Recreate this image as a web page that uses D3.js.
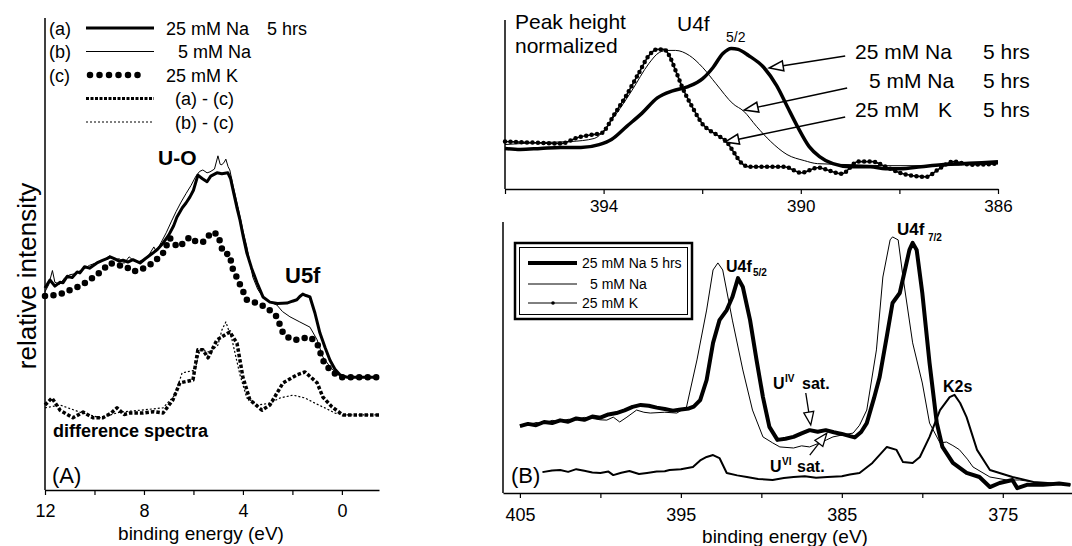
<!DOCTYPE html>
<html><head><meta charset="utf-8">
<script src="https://cdn.jsdelivr.net/npm/d3@7"></script>
<style>
body{margin:0;background:#fff}
svg{display:block}
text{font-family:"Liberation Sans",Arial,Helvetica,sans-serif;fill:#000}
</style>
</head><body>
<svg id="chart" width="1072" height="546"></svg>
<script>
// ---------------- DATA (binding energy eV, relative intensity a.u.) ----------------
// Panel A: valence band
const naThickA = [[12.0,42.8],[11.8,44.5],[11.6,43.2],[11.4,44.0],[11.27,43.9],[11.1,45.3],[10.9,45.0],[10.7,46.2],[10.59,46.0],[10.4,47.3],[10.2,47.0],[9.9,48.1],[9.7,48.6],[9.5,49.0],[9.37,49.4],[9.2,49.0],[9.0,48.5],[8.85,48.7],[8.65,48.3],[8.45,48.8],[8.16,48.1],[7.95,49.0],[7.64,50.2],[7.45,51.0],[7.23,52.3],[7.0,54.0],[6.8,56.0],[6.67,57.8],[6.45,59.8],[6.3,60.8],[6.14,62.1],[6.0,63.5],[5.82,66.7],[5.65,66.0],[5.45,65.3],[5.3,66.5],[5.05,67.2],[4.85,67.0],[4.61,67.2],[4.5,66.0],[4.40,63.6],[4.25,60.0],[4.12,57.2],[3.98,53.5],[3.84,50.2],[3.65,47.0],[3.43,43.9],[3.19,40.9],[2.91,39.8],[2.6,39.5],[2.22,39.6],[2.0,40.0],[1.82,40.3],[1.7,41.0],[1.58,41.5],[1.45,41.2],[1.29,40.9],[1.09,37.5],[0.89,33.3],[0.68,30.2],[0.48,27.5],[0.28,25.6],[0.08,24.4],[-0.2,23.9],[-0.8,23.9],[-1.5,23.9]];
const naThinA = [[12.0,42.0],[11.85,43.5],[11.7,46.5],[11.6,44.0],[11.4,43.6],[11.2,45.0],[11.0,45.6],[10.8,45.8],[10.6,46.4],[10.4,47.0],[10.2,47.6],[10.0,48.0],[9.8,48.4],[9.6,48.8],[9.4,49.6],[9.2,48.8],[9.0,49.0],[8.8,48.0],[8.6,49.4],[8.4,48.5],[8.2,48.4],[8.0,48.9],[7.8,49.8],[7.6,51.5],[7.5,50.5],[7.3,52.5],[7.1,54.5],[6.9,56.8],[6.7,59.0],[6.5,61.0],[6.3,62.8],[6.1,64.5],[5.9,66.5],[5.75,67.5],[5.62,67.8],[5.45,67.2],[5.33,67.4],[5.15,68.0],[5.01,70.8],[4.92,69.0],[4.85,68.9],[4.75,69.5],[4.69,70.1],[4.6,68.5],[4.53,67.8],[4.4,64.5],[4.2,60.0],[4.0,55.0],[3.84,51.5],[3.6,45.1],[3.4,42.5],[3.19,40.9],[2.9,39.8],[2.63,39.2],[2.4,37.8],[2.1,36.7],[1.7,35.6],[1.29,34.5],[1.0,31.8],[0.77,28.2],[0.48,26.1],[0.2,24.6],[0.0,24.0],[-0.5,23.9],[-1.5,23.9]];
const kDotsA = [[12.0,41.1],[11.6,41.3],[11.27,41.7],[10.9,42.6],[10.59,43.2],[10.2,44.5],[9.9,45.6],[9.6,47.0],[9.37,48.1],[9.05,47.6],[8.77,47.5],[8.45,46.3],[8.16,46.6],[7.9,47.3],[7.76,47.7],[7.5,48.8],[7.23,50.2],[6.95,53.4],[6.75,52.0],[6.55,51.5],[6.35,52.8],[6.14,53.6],[5.9,52.6],[5.62,52.5],[5.4,53.8],[5.21,54.7],[5.0,54.0],[4.81,50.4],[4.53,49.8],[4.44,47.2],[4.2,44.5],[3.84,40.3],[3.43,39.6],[3.03,38.6],[2.63,36.7],[2.38,33.3],[2.1,32.0],[1.82,31.8],[1.5,32.2],[1.29,32.4],[1.0,31.1],[0.77,27.5],[0.48,25.4],[0.08,23.9],[-0.5,23.9],[-1.5,23.9]];
const diffAC = [[12.0,18.0],[11.72,19.5],[11.39,16.9],[11.1,16.0],[10.87,15.3],[10.46,16.5],[10.06,15.3],[9.66,15.3],[9.35,16.2],[9.09,17.4],[8.8,16.0],[8.57,16.3],[8.04,16.3],[7.6,16.6],[7.23,16.3],[6.83,19.1],[6.55,22.7],[6.02,23.3],[5.82,29.7],[5.62,29.7],[5.41,28.0],[5.05,31.8],[4.53,33.5],[4.24,31.1],[4.0,23.9],[3.72,19.1],[3.23,16.9],[2.91,18.0],[2.38,22.7],[1.82,24.4],[1.49,25.0],[1.0,22.7],[0.77,19.7],[0.4,17.6],[-0.04,15.9],[-1.5,15.9]];
const diffBC = [[12.0,17.4],[11.39,18.0],[10.59,16.5],[9.78,15.3],[8.97,16.5],[8.16,16.9],[7.23,17.4],[6.75,20.1],[6.46,24.8],[5.94,25.4],[5.74,29.7],[5.33,29.2],[5.01,30.7],[4.85,33.9],[4.69,35.6],[4.44,31.8],[4.12,24.4],[3.84,19.5],[3.39,18.0],[2.91,18.4],[2.5,19.5],[1.98,20.1],[1.49,19.5],[1.09,18.4],[0.69,17.4],[0.28,16.3],[-0.12,15.9],[-1.5,15.9]];

// Panel C: U4f5/2, peak height normalized
const naThickC = [[396.0,24.0],[395.69,23.4],[395.28,24.0],[394.87,24.6],[394.46,24.6],[394.09,26.3],[393.84,29.3],[393.53,37.1],[393.22,44.9],[392.91,53.9],[392.60,58.1],[392.30,60.5],[391.99,65.3],[391.78,71.9],[391.58,80.2],[391.41,83.2],[391.27,82.6],[391.06,79.0],[390.75,71.9],[390.49,61.1],[390.28,49.1],[390.07,37.1],[389.83,25.1],[389.62,19.2],[389.35,15.0],[389.00,13.2],[388.59,13.2],[388.28,12.0],[387.98,12.0],[387.56,13.2],[387.15,14.4],[386.74,15.0],[386.33,15.6],[386.0,16.2]];
const naThinC = [[396.0,26.3],[395.28,27.5],[394.66,28.1],[394.19,29.9],[393.78,43.1],[393.43,58.1],[393.08,74.3],[392.87,80.8],[392.71,82.0],[392.54,82.0],[392.26,79.0],[391.99,71.9],[391.72,62.3],[391.37,50.3],[391.16,46.1],[390.90,37.1],[390.61,28.1],[390.28,20.4],[389.93,16.8],[389.66,15.0],[388.96,14.4],[388.28,13.8],[387.46,13.8],[386.64,14.4],[386.0,15.6]];
const kDotsC = [[396.0,28.1],[395.49,27.5],[394.87,26.9],[394.52,30.5],[394.19,32.3],[394.05,32.9],[393.78,44.3],[393.57,53.9],[393.28,68.9],[393.08,79.0],[392.91,82.6],[392.77,82.6],[392.67,79.0],[392.54,70.1],[392.40,59.9],[392.19,47.9],[391.99,38.3],[391.72,32.3],[391.51,28.1],[391.37,22.2],[391.23,16.2],[391.06,13.2],[390.75,13.2],[390.34,13.2],[389.99,9.6],[389.66,12.6],[389.17,9.0],[388.84,16.2],[388.55,16.2],[388.28,13.2],[387.93,9.0],[387.46,7.2],[387.19,12.0],[386.91,16.2],[386.53,14.4],[386.0,15.0]];

// Panel B: U4f region
const naThickB = [[405.0,24.7],[404.5,25.5],[404.0,25.0],[403.5,26.2],[403.0,25.8],[402.5,26.8],[402.0,26.3],[401.5,27.5],[401.0,27.0],[400.5,28.2],[400.0,27.8],[399.5,29.0],[399.0,29.5],[398.5,30.5],[398.0,31.8],[397.5,32.5],[397.0,32.2],[396.5,31.5],[396.0,31.0],[395.5,30.4],[395.0,30.8],[394.5,31.2],[394.2,31.9],[393.8,34.3],[393.4,41.7],[393.0,55.4],[392.6,63.8],[392.15,67.5],[391.8,72.3],[391.45,79.3],[391.15,76.0],[390.7,63.8],[390.3,49.1],[389.9,35.4],[389.5,24.4],[389.0,19.6],[388.5,20.0],[388.0,20.7],[387.5,22.0],[387.0,23.2],[386.5,22.6],[386.0,23.2],[385.5,22.4],[385.0,21.8],[384.5,21.0],[384.2,20.5],[383.8,22.5],[383.45,25.8],[383.0,35.0],[382.65,42.8],[382.2,58.0],[381.85,70.1],[381.4,73.8],[380.8,89.7],[380.6,92.3],[380.35,89.7],[380.0,73.8],[379.55,48.0],[379.1,25.8],[378.75,17.0],[378.1,11.1],[377.25,7.4],[376.45,5.9],[375.8,2.2],[375.2,3.7],[374.4,4.8],[374.1,1.8],[373.5,3.0],[372.5,3.0],[371.5,3.5],[370.8,3.0]];
const naThinB = [[405.0,25.1],[404.5,25.0],[404.0,26.0],[403.5,25.6],[403.0,26.8],[402.5,26.4],[402.0,27.2],[401.5,27.0],[401.0,27.9],[400.5,27.5],[400.0,27.0],[399.6,26.9],[399.2,28.0],[398.8,26.2],[398.35,28.0],[397.75,30.6],[397.3,29.8],[396.9,29.5],[396.0,29.8],[395.25,29.5],[394.65,31.7],[394.0,49.1],[393.4,67.5],[393.0,82.3],[392.7,84.9],[392.4,82.3],[391.8,63.8],[391.15,45.4],[390.55,30.6],[389.9,20.7],[389.3,18.5],[388.85,17.0],[388.0,16.6],[387.5,17.4],[387.0,17.0],[386.5,18.2],[385.95,19.6],[385.55,20.7],[384.9,21.5],[384.3,22.1],[383.9,25.0],[383.45,30.6],[382.85,52.8],[382.45,79.7],[382.0,93.4],[381.85,94.5],[381.5,93.4],[381.2,79.7],[380.6,55.4],[380.0,40.6],[379.55,25.8],[378.9,18.5],[378.5,18.8],[378.1,17.5],[377.7,16.0],[377.2,12.5],[376.85,9.6],[375.8,5.9],[374.75,4.8],[373.95,4.8],[372.7,3.7],[370.8,3.0]];
const kDotsB = [[403.6,7.7],[403.0,8.3],[402.5,8.5],[402.0,7.8],[401.5,8.8],[401.0,8.2],[400.5,7.6],[400.0,7.4],[399.5,7.9],[399.2,6.6],[398.7,7.5],[398.2,8.1],[397.6,7.0],[397.1,7.4],[396.5,7.9],[396.0,8.0],[395.7,8.5],[395.0,8.8],[394.25,9.6],[393.8,12.0],[393.4,13.3],[393.0,14.0],[392.6,12.9],[392.15,7.4],[391.5,6.5],[390.9,5.9],[390.2,5.2],[389.3,4.8],[388.6,5.5],[388.0,5.9],[387.3,6.2],[386.6,5.6],[385.9,5.9],[385.0,6.2],[384.5,6.8],[383.9,7.4],[383.1,11.1],[382.2,17.0],[381.6,15.9],[381.2,11.4],[380.6,11.1],[380.15,13.3],[379.55,20.7],[378.9,30.6],[378.3,35.4],[378.0,36.2],[377.65,33.2],[377.25,28.0],[376.6,15.9],[375.8,8.5],[375.2,7.4],[374.4,5.9],[373.1,4.1],[372.0,3.6],[370.8,3.0]];

// Tick values / labels
const ticksA = [12,10,8,6,4,2,0];
const labelsA = [12,8,4,0];
const ticksC = [396,394,392,390,388,386];
const labelsC = [394,390,386];
const ticksB = [405,400,395,390,385,380,375];
const labelsB = [405,395,385,375];

// Legend texts
const legendA = [["(a)","25 mM Na","5 hrs"],["(b)","5 mM Na",""],["(c)","25 mM K",""],["","(a) - (c)",""],["","(b) - (c)",""]];
const legendB = ["25 mM Na 5 hrs","5 mM Na","25 mM K"];
const labelsCurvesC = [["25 mM Na","","5 hrs"],["5 mM Na","","5 hrs"],["25 mM","K","5 hrs"]];

// Arrow annotations (data coords: [eV, intensity])
const arrowsC = [[[389.10,78.7],[390.64,71.6]],[[389.06,59.8],[391.15,46.7]],[[389.10,42.6],[391.54,27.8]]];
const arrowsB = [[[387.24,36.9],[386.93,25.1]],[[386.99,14.0],[385.93,22.1]]];

// ---------------- DRAW ----------------
const svg = d3.select("#chart");

function txt(g, x, y, s, size, weight, anchor){
  return g.append("text").attr("x",x).attr("y",y).attr("font-size",size)
    .attr("font-weight",weight||"normal").attr("text-anchor",anchor||"start").text(s);
}
function xAxis(g, scale, y, ticks, labels, fs, ly){
  const ax = d3.axisBottom(scale).tickValues(ticks).tickSize(5).tickSizeOuter(0)
    .tickFormat(d => labels.includes(d) ? String(d) : "");
  const a = g.append("g").attr("transform",`translate(0,${y})`).call(ax);
  a.attr("font-family",null).attr("font-size",null);
  a.select(".domain").attr("stroke","#000").attr("stroke-width",1.5);
  a.selectAll(".tick line").attr("stroke","#000").attr("stroke-width",1.2);
  a.selectAll(".tick text").attr("font-size",fs).attr("y",ly).attr("dy",0).attr("fill","#000");
}
function arrow(g, x1,y1,x2,y2,L,W,sw){
  const a = Math.atan2(y2-y1,x2-x1);
  const bx = x2-L*Math.cos(a), by = y2-L*Math.sin(a);
  g.append("line").attr("x1",x1).attr("y1",y1).attr("x2",bx).attr("y2",by)
    .attr("stroke","#000").attr("stroke-width",sw);
  const px = -Math.sin(a)*W, py = Math.cos(a)*W;
  g.append("polygon").attr("points",`${x2},${y2} ${bx+px},${by+py} ${bx-px},${by-py}`)
    .attr("fill","#fff").attr("stroke","#000").attr("stroke-width",sw).attr("stroke-linejoin","miter");
}
function curve(g, data, x, y, style){
  const line = d3.line().x(d=>x(d[0])).y(d=>y(d[1])).curve(style.curve||d3.curveLinear);
  const p = g.append("path").datum(data).attr("d",line).attr("fill","none")
    .attr("stroke","#000").attr("stroke-width",style.w).attr("stroke-linejoin","round");
  if(style.dash) p.attr("stroke-dasharray",style.dash);
  if(style.cap) p.attr("stroke-linecap",style.cap);
  return p;
}

// ===== Panel A =====
const gA = svg.append("g");
const xA = d3.scaleLinear().domain([12,-1.5]).range([45,379]);
const yA = d3.scaleLinear().domain([0,100]).range([490,18]);
gA.append("line").attr("x1",xA(12)).attr("x2",xA(12)).attr("y1",yA(100)).attr("y2",yA(0))
  .attr("stroke","#000").attr("stroke-width",1.5);
xAxis(gA, xA, yA(0), ticksA, labelsA, 18, 27);
txt(gA, 201, 540, "binding energy (eV)", 19, "normal", "middle");
gA.append("text").attr("transform","translate(36,276) rotate(-90)").attr("text-anchor","middle")
  .attr("font-size",26).text("relative intensity");

curve(gA, diffBC, xA, yA, {w:1.2, dash:"2 2"});
curve(gA, diffAC, xA, yA, {w:3.5, dash:"3.5 2"});
curve(gA, naThinA, xA, yA, {w:1});
curve(gA, naThickA, xA, yA, {w:3});
curve(gA, kDotsA, xA, yA, {w:6.5, dash:"0 8.5", cap:"round"});

// legend A
const rowY = i => 28 + 23.5*i;
legendA.forEach((r,i)=>{
  const yy = rowY(i);
  if(r[0]) txt(gA, 49, yy+6.5, r[0], 18);
  txt(gA, i===1?178:(i>=3?175:166), yy+6.5, r[1], 18);
  if(r[2]) txt(gA, 267, yy+6.5, r[2], 18);
});
const sampleLine = (i, st) => {
  const p = gA.append("line").attr("x1",i===2?90:86).attr("x2",i===2?147:154).attr("y1",rowY(i)).attr("y2",rowY(i))
    .attr("stroke","#000").attr("stroke-width",st.w);
  if(st.dash) p.attr("stroke-dasharray",st.dash);
  if(st.cap) p.attr("stroke-linecap",st.cap);
};
sampleLine(0,{w:3});
sampleLine(1,{w:1});
sampleLine(2,{w:6.5,dash:"0 9.5",cap:"round"});
sampleLine(3,{w:3,dash:"3 1.5"});
sampleLine(4,{w:1.2,dash:"2 2"});

txt(gA, 158, 165, "U-O", 21, "bold");
txt(gA, 285, 283, "U5f", 22, "bold");
txt(gA, 53, 437, "difference spectra", 18, "bold");
txt(gA, 52, 483, "(A)", 22);

// ===== Panel C (top right) =====
const gC = svg.append("g");
const xC = d3.scaleLinear().domain([396,386]).range([505,998]);
const yC = d3.scaleLinear().domain([0,100]).range([189,20]);
gC.append("line").attr("x1",xC(396)).attr("x2",xC(396)).attr("y1",yC(100)).attr("y2",yC(0))
  .attr("stroke","#000").attr("stroke-width",1.5);
xAxis(gC, xC, yC(0), ticksC, labelsC, 17, 23);
curve(gC, naThinC, xC, yC, {w:1, curve:d3.curveMonotoneX});
curve(gC, kDotsC, xC, yC, {w:1.6, curve:d3.curveMonotoneX});
curve(gC, kDotsC, xC, yC, {w:4.5, dash:"0 5.5", cap:"round", curve:d3.curveMonotoneX});
curve(gC, naThickC, xC, yC, {w:3.5, curve:d3.curveMonotoneX});
txt(gC, 515, 29, "Peak height", 21);
txt(gC, 515, 53, "normalized", 21);
txt(gC, 677, 31, "U4f", 21);
txt(gC, 726, 42, "5/2", 14);
const rowYC = [59, 88, 117];
labelsCurvesC.forEach((r,i)=>{
  txt(gC, i===1?869:855, rowYC[i], r[0], 21);
  if(r[1]) txt(gC, 938, rowYC[i], r[1], 21);
  txt(gC, 983, rowYC[i], r[2], 21);
});
arrowsC.forEach(a=>arrow(gC, xC(a[0][0]), yC(a[0][1]), xC(a[1][0]), yC(a[1][1]), 14, 5, 1.5));

// ===== Panel B (bottom right) =====
const gB = svg.append("g");
const xB = d3.scaleLinear().domain([406.05,370.7]).range([503,1072]);
const yB = d3.scaleLinear().domain([0,100]).range([493,222]);
gB.append("line").attr("x1",xB(406.05)).attr("x2",xB(406.05)).attr("y1",yB(100)).attr("y2",yB(0))
  .attr("stroke","#000").attr("stroke-width",1.5);
xAxis(gB, xB, yB(0), ticksB, labelsB, 18, 28);
txt(gB, 785, 543, "binding energy (eV)", 19, "normal", "middle");
curve(gB, kDotsB, xB, yB, {w:2});
curve(gB, naThinB, xB, yB, {w:1});
curve(gB, naThickB, xB, yB, {w:4});
txt(gB, 511, 483, "(B)", 22);
txt(gB, 726, 272, "U4f", 16, "bold");
txt(gB, 753, 276, "5/2", 10, "bold");
txt(gB, 897, 235, "U4f", 17, "bold");
txt(gB, 928, 241, "7/2", 10, "bold");
txt(gB, 943, 392, "K2s", 16, "bold");
txt(gB, 773, 389, "U", 16, "bold");
txt(gB, 785, 382, "IV", 10, "bold");
txt(gB, 802, 389, "sat.", 16, "bold");
txt(gB, 770, 472, "U", 16, "bold");
txt(gB, 782, 465, "VI", 10, "bold");
txt(gB, 797, 472, "sat.", 16, "bold");
arrowsB.forEach(a=>arrow(gB, xB(a[0][0]), yB(a[0][1]), xB(a[1][0]), yB(a[1][1]), 13, 5, 1.3));

// legend B (double border)
gB.append("rect").attr("x",515).attr("y",243).attr("width",177).attr("height",76)
  .attr("fill","#fff").attr("stroke","#000").attr("stroke-width",2.5);
gB.append("rect").attr("x",519.5).attr("y",247.5).attr("width",168).attr("height",67)
  .attr("fill","none").attr("stroke","#000").attr("stroke-width",1);
const legYB = [263, 284, 303];
const legW = [4, 1, 1];
legendB.forEach((s,i)=>{
  gB.append("line").attr("x1",528).attr("x2",577).attr("y1",legYB[i]).attr("y2",legYB[i])
    .attr("stroke","#000").attr("stroke-width",legW[i]);
  txt(gB, i===1?590:582, legYB[i]+5, s, 14);
});
gB.append("circle").attr("cx",553).attr("cy",legYB[2]).attr("r",1.8).attr("fill","#000");
</script>
</body></html>
